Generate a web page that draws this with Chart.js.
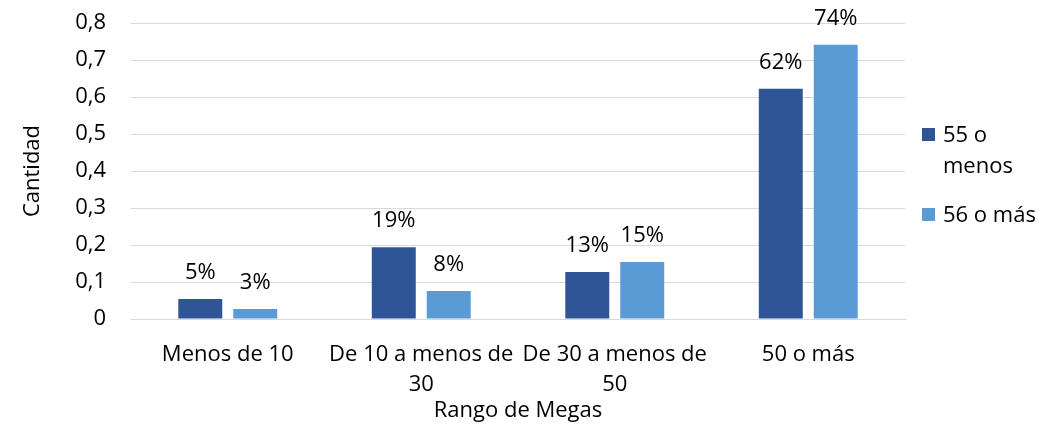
<!DOCTYPE html>
<html>
<head>
<meta charset="utf-8">
<script src="https://cdn.jsdelivr.net/npm/chart.js@4.4.1/dist/chart.umd.min.js"></script>
<style>
  html, body { margin: 0; padding: 0; background: #ffffff; }
  #wrap { width: 1053px; height: 426px; }
</style>
</head>
<body>
<div id="wrap"><canvas id="c" width="1053" height="426"></canvas></div>
<script>
// ---- data ----
const categories = [
  ["Menos de 10"],
  ["De 10 a menos de", "30"],
  ["De 30 a menos de", "50"],
  ["50 o más"]
];
const seriesNames = ["55 o menos", "56 o más"];
const series55 = [0.054, 0.194, 0.127, 0.622];
const series56 = [0.027, 0.076, 0.154, 0.741];
const yTicks = [0, 0.1, 0.2, 0.3, 0.4, 0.5, 0.6, 0.7, 0.8];
const xTitle = "Rango de Megas";
const yTitle = "Cantidad";

const colors = ["#2F5597", "#5B9BD5"];
const FONT = "'Open Sans', 'Liberation Sans', sans-serif";
const TEXT = "#000000";
const GRID = "#D9D9D9";

const fmtTick = v => (v === 0 ? "0" : v.toFixed(1).replace(".", ","));

const dataLabelPlugin = {
  id: "dataLabels",
  afterDatasetsDraw(chart) {
    const ctx = chart.ctx;
    ctx.save();
    ctx.font = "22px " + FONT;
    ctx.fillStyle = TEXT;
    ctx.textAlign = "center";
    ctx.textBaseline = "alphabetic";
    chart.data.datasets.forEach((ds, di) => {
      const meta = chart.getDatasetMeta(di);
      meta.data.forEach((bar, i) => {
        const txt = Math.round(ds.data[i] * 100) + "%";
        ctx.fillText(txt, bar.x, bar.y - 20);
      });
    });
    ctx.restore();
  }
};

const legendPlugin = {
  id: "sideLegend",
  afterDraw(chart) {
    const ctx = chart.ctx;
    ctx.save();
    ctx.font = "22px " + FONT;
    ctx.textAlign = "left";
    ctx.textBaseline = "alphabetic";
    const maxW = 1053 - 943 - 4;
    let baseline = 142;
    const lineH = 31;
    chart.data.datasets.forEach((ds, di) => {
      const words = ds.label.split(" ");
      const lines = [];
      let cur = "";
      words.forEach(w => {
        const test = cur ? cur + " " + w : w;
        if (ctx.measureText(test).width > maxW && cur) { lines.push(cur); cur = w; }
        else cur = test;
      });
      if (cur) lines.push(cur);
      ctx.fillStyle = ds.backgroundColor;
      ctx.fillRect(922, baseline - 14, 13, 13);
      ctx.fillStyle = TEXT;
      lines.forEach((ln, li) => ctx.fillText(ln, 943, baseline + li * lineH));
      baseline += lines.length * lineH + 18;
    });
    ctx.restore();
  }
};

new Chart(document.getElementById("c"), {
  type: "bar",
  data: {
    labels: categories,
    datasets: [
      { label: seriesNames[0], data: series55, backgroundColor: colors[0] },
      { label: seriesNames[1], data: series56, backgroundColor: colors[1] }
    ]
  },
  options: {
    responsive: false,
    animation: false,
    devicePixelRatio: 1,
    layout: { padding: { left: 0, right: 148, top: 23, bottom: 0 } },
    datasets: { bar: { categoryPercentage: 0.568, barPercentage: 0.8 } },
    plugins: { legend: { display: false }, tooltip: { enabled: false } },
    scales: {
      x: {
        grid: { display: false, drawTicks: false },
        border: { display: true, color: GRID, width: 1 },
        ticks: {
          color: TEXT, font: { family: FONT, size: 22, lineHeight: 30 / 22 },
          padding: 21, maxRotation: 0, minRotation: 0, autoSkip: false
        },
        title: {
          display: true, text: xTitle, color: TEXT,
          font: { family: FONT, size: 22, lineHeight: 1.2 },
          padding: { top: 0, bottom: 2 }
        },
        afterFit(scale) { scale.height = 107; scale.paddingLeft = 0; scale.paddingRight = 0; }
      },
      y: {
        min: 0, max: 0.8,
        afterBuildTicks(scale) { scale.ticks = yTicks.map(v => ({ value: v })); },
        grid: { color: GRID, lineWidth: 1, drawTicks: false },
        border: { display: false },
        ticks: {
          color: TEXT, font: { family: FONT, size: 22 }, padding: 25,
          callback: v => fmtTick(v)
        },
        title: {
          display: true, text: yTitle, color: TEXT,
          font: { family: FONT, size: 22, lineHeight: 1.2 },
          padding: { top: 20, bottom: 0 }
        },
        afterFit(scale) { scale.width = 131; scale.paddingTop = 0; scale.paddingBottom = 0; }
      }
    }
  },
  plugins: [dataLabelPlugin, legendPlugin]
});
</script>
</body>
</html>
